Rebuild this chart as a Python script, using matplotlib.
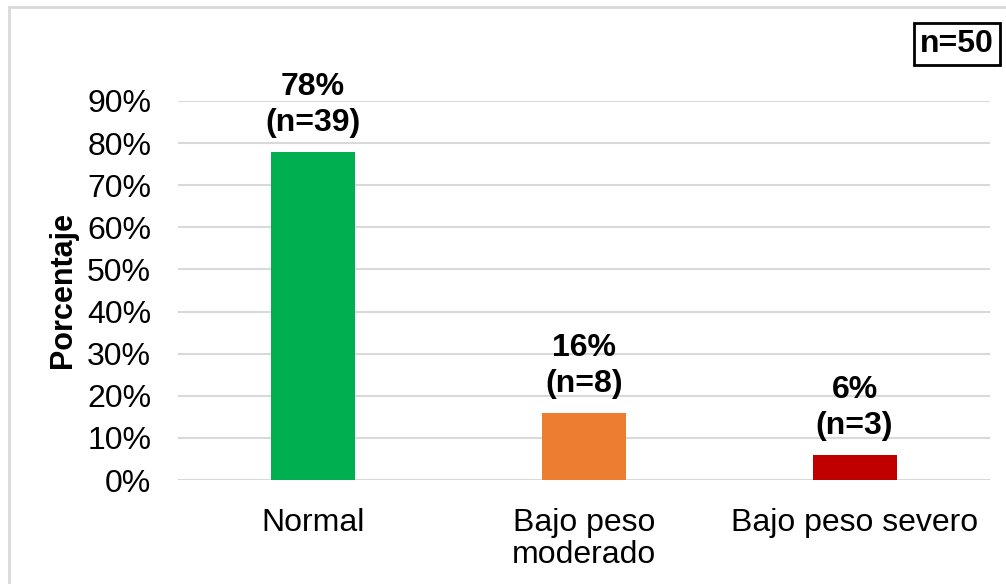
import matplotlib
matplotlib.use("Agg")
import matplotlib.pyplot as plt
from matplotlib.patches import Rectangle
from matplotlib.ticker import PercentFormatter

categories = ["Normal", "Bajo peso\nmoderado", "Bajo peso severo"]
percentages = [78, 16, 6]
counts = [39, 8, 3]
colors = ["#00B050", "#ED7D31", "#C00000"]
total_n = 50

plt.rcParams['font.family'] = ['Liberation Sans', 'DejaVu Sans']

W, H = 1006, 584
fig = plt.figure(figsize=(W / 100, H / 100), dpi=100)
ax = fig.add_axes([177.6 / W, 1 - 480 / H, (990 - 177.6) / W, (480 - 101) / H])

x = range(len(categories))
ax.bar(x, percentages, width=0.31, color=colors, zorder=3)
ax.set_xlim(-0.5, len(categories) - 0.5)
ax.set_ylim(0, 90)
ax.set_yticks(range(0, 91, 10))
ax.yaxis.set_major_formatter(PercentFormatter(decimals=0))
ax.set_xticks(list(x))
ax.set_xticklabels(categories, fontsize=23, linespacing=1.1)
ax.tick_params(axis='y', labelsize=23, length=0, pad=19)
ax.tick_params(axis='x', length=0, pad=20)
ax.grid(axis='y', color='#D9D9D9', linewidth=1.5, zorder=0)
for s in ax.spines.values():
    s.set_visible(False)

ax.set_ylabel("Porcentaje", fontsize=22, fontweight='bold')
ax.yaxis.set_label_coords(-0.122, 0.5)

for xi, p, c in zip(x, percentages, counts):
    ax.annotate(f"{p}%\n(n={c})", (xi, p), xytext=(0, 10), textcoords='offset points',
                ha='center', va='bottom', fontsize=23, fontweight='bold', linespacing=1.25)

fig.text(957 / W, 1 - 44 / H, f"n={total_n}", ha='center', va='center', fontsize=23,
         fontweight='bold',
         bbox=dict(boxstyle='square,pad=0.2', facecolor='white', edgecolor='black', linewidth=2))

fig.patches.append(Rectangle((9 / W, -0.1), 1.2, 1 - 7 / H + 0.1, transform=fig.transFigure,
                             fill=False, edgecolor='#D9D9D9', linewidth=2))

fig.savefig("out.png", dpi=100)
